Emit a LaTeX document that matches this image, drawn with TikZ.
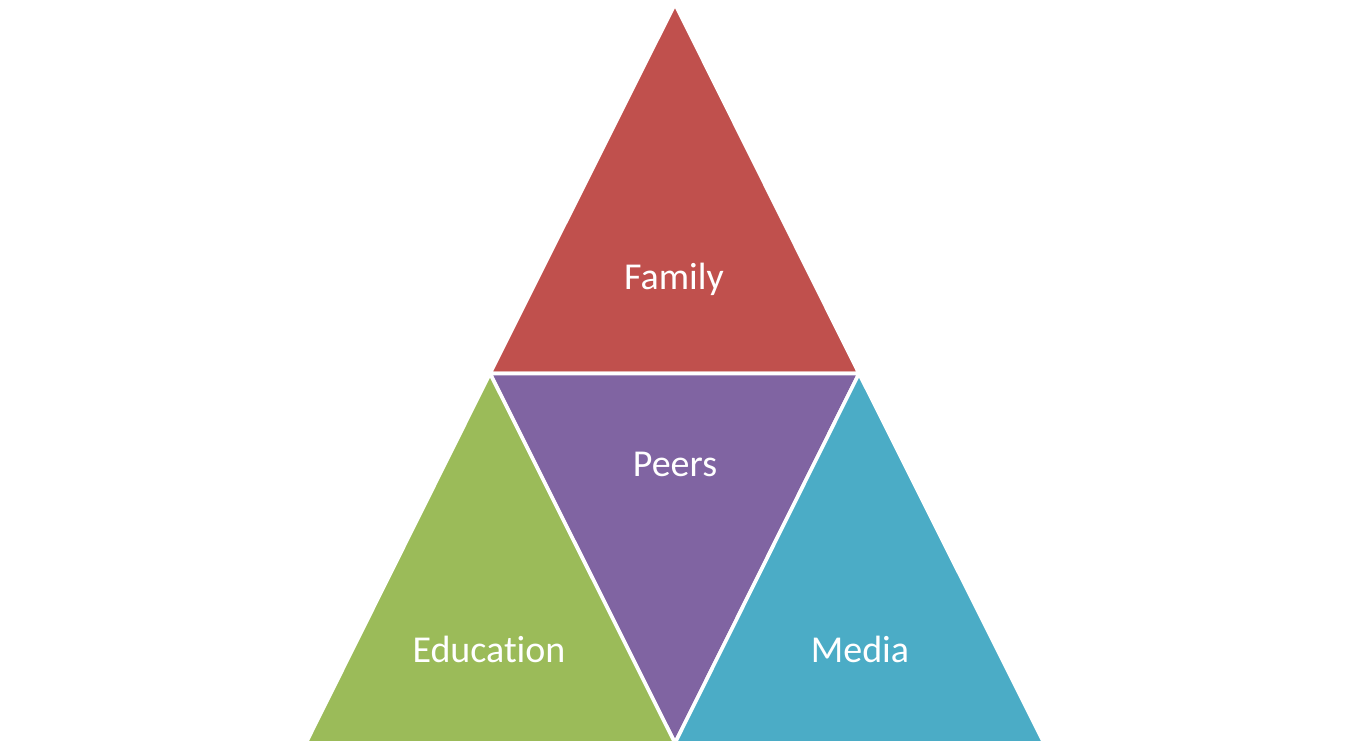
\documentclass[tikz,border=0pt]{standalone}
\usepackage{fontspec}
\setmainfont{Carlito}[Ligatures=CommonOff]
\usepackage{tikz}
\usetikzlibrary{positioning}
\definecolor{famred}{HTML}{C0504D}
\definecolor{peerpurple}{HTML}{8064A2}
\definecolor{edugreen}{HTML}{9BBB59}
\definecolor{mediablue}{HTML}{4BACC6}
\tikzstyle{tri_s} = [draw=white, line width=1.8pt, line join=miter]
\tikzstyle{tri_t} = [white, anchor=base, inner sep=0pt, font=\fontsize{19}{23}\selectfont]

\begin{document}
\begin{tikzpicture}[x=0.5pt,y=-0.5pt]
\useasboundingbox (0,0) rectangle (1350,746);
\coordinate (A) at (675,4);
\coordinate (B) at (490,373.5);
\coordinate (C) at (859,373.5);
\coordinate (D) at (675,743);
\coordinate (E) at (306,743);
\coordinate (F) at (1044,743);
\filldraw [tri_s, fill=famred] (A) -- (B) -- (C) -- cycle;
\filldraw [tri_s, fill=peerpurple] (B) -- (C) -- (D) -- cycle;
\filldraw [tri_s, fill=edugreen] (B) -- (E) -- (D) -- cycle;
\filldraw [tri_s, fill=mediablue] (C) -- (D) -- (F) -- cycle;
\node [tri_t] (family) at (674,289) {Family};
\node [tri_t] (peers) at (675,476) {Peers};
\node [tri_t] (education) at (489,662) {Education};
\node [tri_t] (media) at (860,662) {Media};
\end{tikzpicture}
\end{document}
